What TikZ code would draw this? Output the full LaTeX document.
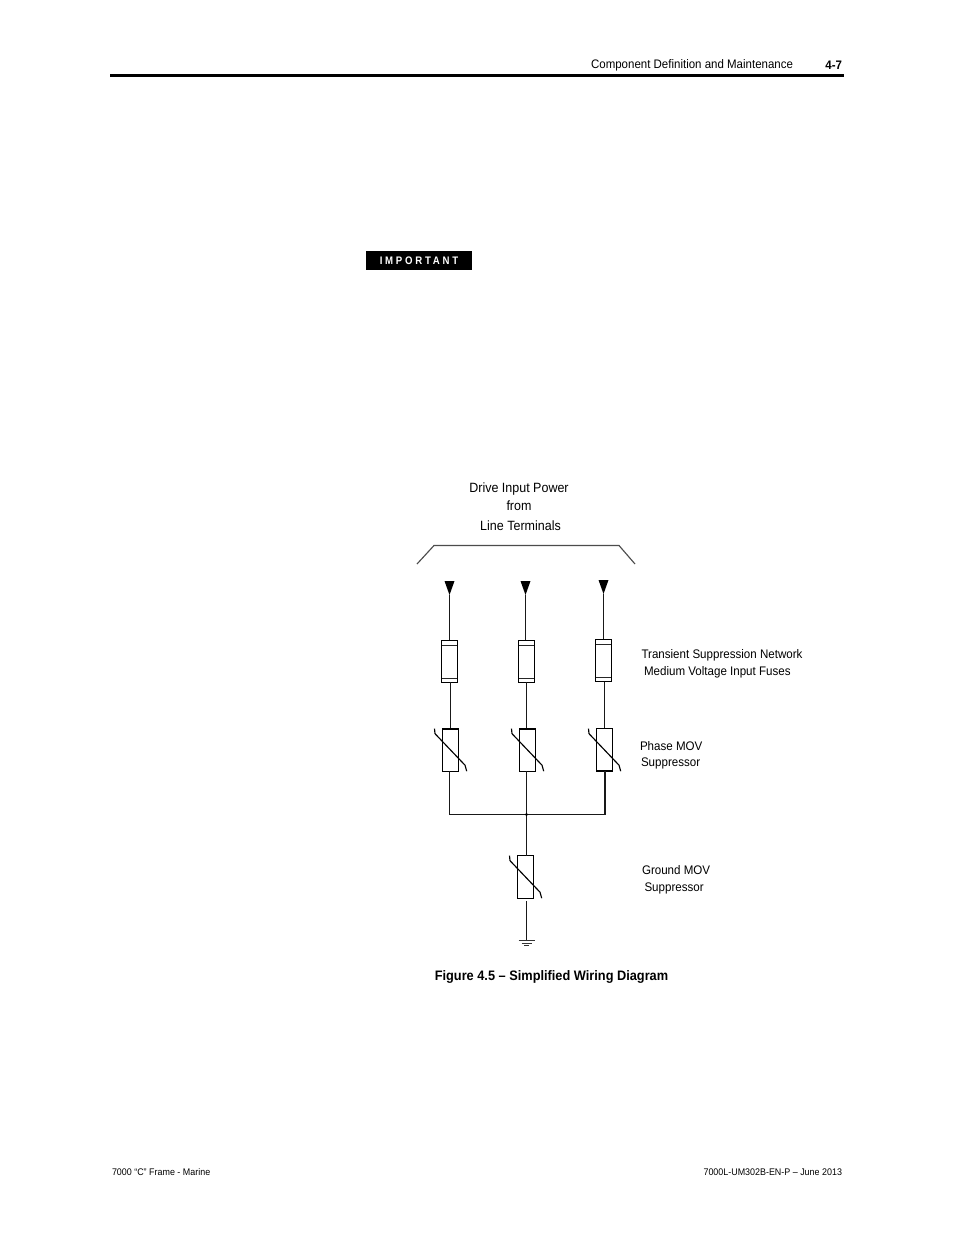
\documentclass[tikz,border=0pt]{standalone}
\usepackage{fontspec}
\setmainfont[FakeStretch=0.93]{Liberation Sans}
\newfontfamily\spacedbold[LetterSpace=25,FakeStretch=0.88]{Liberation Sans Bold}
\tikzset{
  x=0.75pt,y=-0.75pt,
  wire/.style={line width=0.85pt,black!90},
  thin wire/.style={line width=0.6pt,black!85},
  fusebox/.style={draw,line width=0.8pt,fill=white,minimum width=11.7pt,minimum height=31.6pt,inner sep=0pt,outer sep=0pt},
  movbox/.style={draw,line width=0.8pt,fill=white,minimum width=12pt,minimum height=32pt,inner sep=0pt,outer sep=0pt},
  lbl/.style={inner sep=0pt,outer sep=0pt,anchor=west,font=\fontsize{9.33}{11}\selectfont},
  toplbl/.style={inner sep=0pt,outer sep=0pt,font=\fontsize{10.08}{13}\selectfont},
  headtxt/.style={inner sep=0pt,outer sep=0pt,font=\fontsize{9.27}{11}\selectfont},
  foot/.style={inner sep=0pt,outer sep=0pt,font=\fontsize{7.2}{8}\selectfont},
  tip/.style={fill=black,draw=none},
  ground/.style={line width=0.7pt,black!80}
}
\newcommand{\fuselines}[1]{%
  \draw[thin wire] (#1.north west)++(0,5) -- ++(15.6,0);
  \draw[thin wire] (#1.south west)++(0,-4) -- ++(15.6,0);
}
\newcommand{\movslash}[1]{%
  \draw[line width=0.85pt] (#1.north west)++(-8,0) -- ++(0.5,5) -- ++(30,31.5) -- ++(1.7,6);
}
\begin{document}
\begin{tikzpicture}
\useasboundingbox (0,0) rectangle (954,1235);
\fill[white] (0,0) rectangle (954,1235);
% header
\coordinate (ruleL) at (110,75.5);
\coordinate (ruleR) at (844,75.5);
\draw[line width=2.3pt] (ruleL) -- (ruleR);
\node[headtxt,anchor=east] (head) at (793,65.5) {Component Definition and Maintenance};
\node[headtxt,anchor=east,font=\fontsize{9.27}{11}\selectfont\bfseries] (page) at (842,65) {4-7};
% important
\node[fill=black,text=white,minimum width=79.5pt,minimum height=14.2pt,inner sep=0pt,font=\fontsize{8.2}{9}\spacedbold] (imp) at (419,260.5) {IMPORTANT};
% top label
\node[toplbl] (t1) at (519,489) {Drive Input Power};
\node[toplbl] (t2) at (519,506) {from};
\node[toplbl] (t3) at (520.5,525.5) {Line Terminals};
% bracket
\coordinate (b1) at (417,564);
\coordinate (b2) at (434,545.5);
\coordinate (b3) at (619,545.5);
\coordinate (b4) at (635,564);
\draw[line width=0.85pt,black!70] (b1) -- (b2) -- (b3) -- (b4);
% arrow tips
\coordinate (a1) at (449.5,595);
\coordinate (a2) at (525.5,595);
\coordinate (a3) at (603.5,594);
\fill[tip] (a1) -- ++(-5,-14) -- ++(10,0) -- cycle;
\fill[tip] (a2) -- ++(-5,-14) -- ++(10,0) -- cycle;
\fill[tip] (a3) -- ++(-5,-14) -- ++(10,0) -- cycle;
% fuses
\node[fusebox] (f1) at (449.5,661.3) {};
\node[fusebox] (f2) at (526.5,661.3) {};
\node[fusebox] (f3) at (603.5,660.5) {};
\fuselines{f1}\fuselines{f2}\fuselines{f3}
\draw[line width=1.2pt] (f2.north east) -- (f2.south east);
\draw[line width=1.2pt] (f3.south west) -- (f3.south east);
% MOVs
\node[movbox] (m1) at (450.5,750) {};
\node[movbox] (m2) at (527.5,750) {};
\node[movbox] (m3) at (604.5,750) {};
\node[movbox] (m4) at (525.5,877) {};
\draw[line width=1.3pt] (m1.north west) -- (m1.north east);
\draw[line width=1.3pt] (m2.north west) -- (m2.north east);
\draw[line width=1.3pt] (m3.south west) -- (m3.south east);
\draw[line width=1.2pt] (m4.north west) -- (m4.south west);
\movslash{m1}\movslash{m2}\movslash{m3}\movslash{m4}
% wires
\draw[wire] (a1) -- (a1 |- f1.north);
\draw[wire] (a2) -- (a2 |- f2.north);
\draw[wire] (a3) -- (a3 |- f3.north);
\draw[wire] (f1.south) ++(1,0) -- ++(0,45.5);
\draw[wire] (f2.south) -- ++(0,45.5);
\draw[wire] (f3.south) ++(1,0) -- ++(0,46);
\coordinate (j) at (526.5,814.5);
\coordinate (gnd) at (526.5,940.5);
\draw[wire] (m1.south) ++(-1,0) |- (j);
\draw[wire] (m3.south) ++(0.5,0) |- (j);
\draw[wire] (m2.south) ++(-1,0) -- (j);
\draw[wire] (j) -- (m4.north -| j);
\draw[wire] (m4.south -| j) ++(0,3) -- (gnd);
\fill (j) circle[radius=1.2pt];
% ground
\draw[ground] (gnd) ++(-8,0) -- ++(16,0);
\draw[ground] (gnd) ++(-5,2.5) -- ++(10,0);
\draw[ground] (gnd) ++(-2.5,5) -- ++(5,0);
% labels
\node[lbl] (l1) at (641.5,655) {Transient Suppression Network};
\node[lbl] (l2) at (644,672) {Medium Voltage Input Fuses};
\node[lbl] (l3) at (640,746.5) {Phase MOV};
\node[lbl] (l4) at (641,763) {Suppressor};
\node[lbl] (l5) at (642,870.5) {Ground MOV};
\node[lbl] (l6) at (644.5,888) {Suppressor};
\node[inner sep=0pt,font=\fontsize{10.3}{12}\selectfont\bfseries] (cap) at (551.5,976.5) {Figure 4.5 – Simplified Wiring Diagram};
% footer
\node[foot,anchor=west] (fl) at (112,1172.5) {7000 “C” Frame - Marine};
\node[foot,anchor=east] (fr) at (842,1172.5) {7000L-UM302B-EN-P – June 2013};
\end{tikzpicture}
\end{document}
